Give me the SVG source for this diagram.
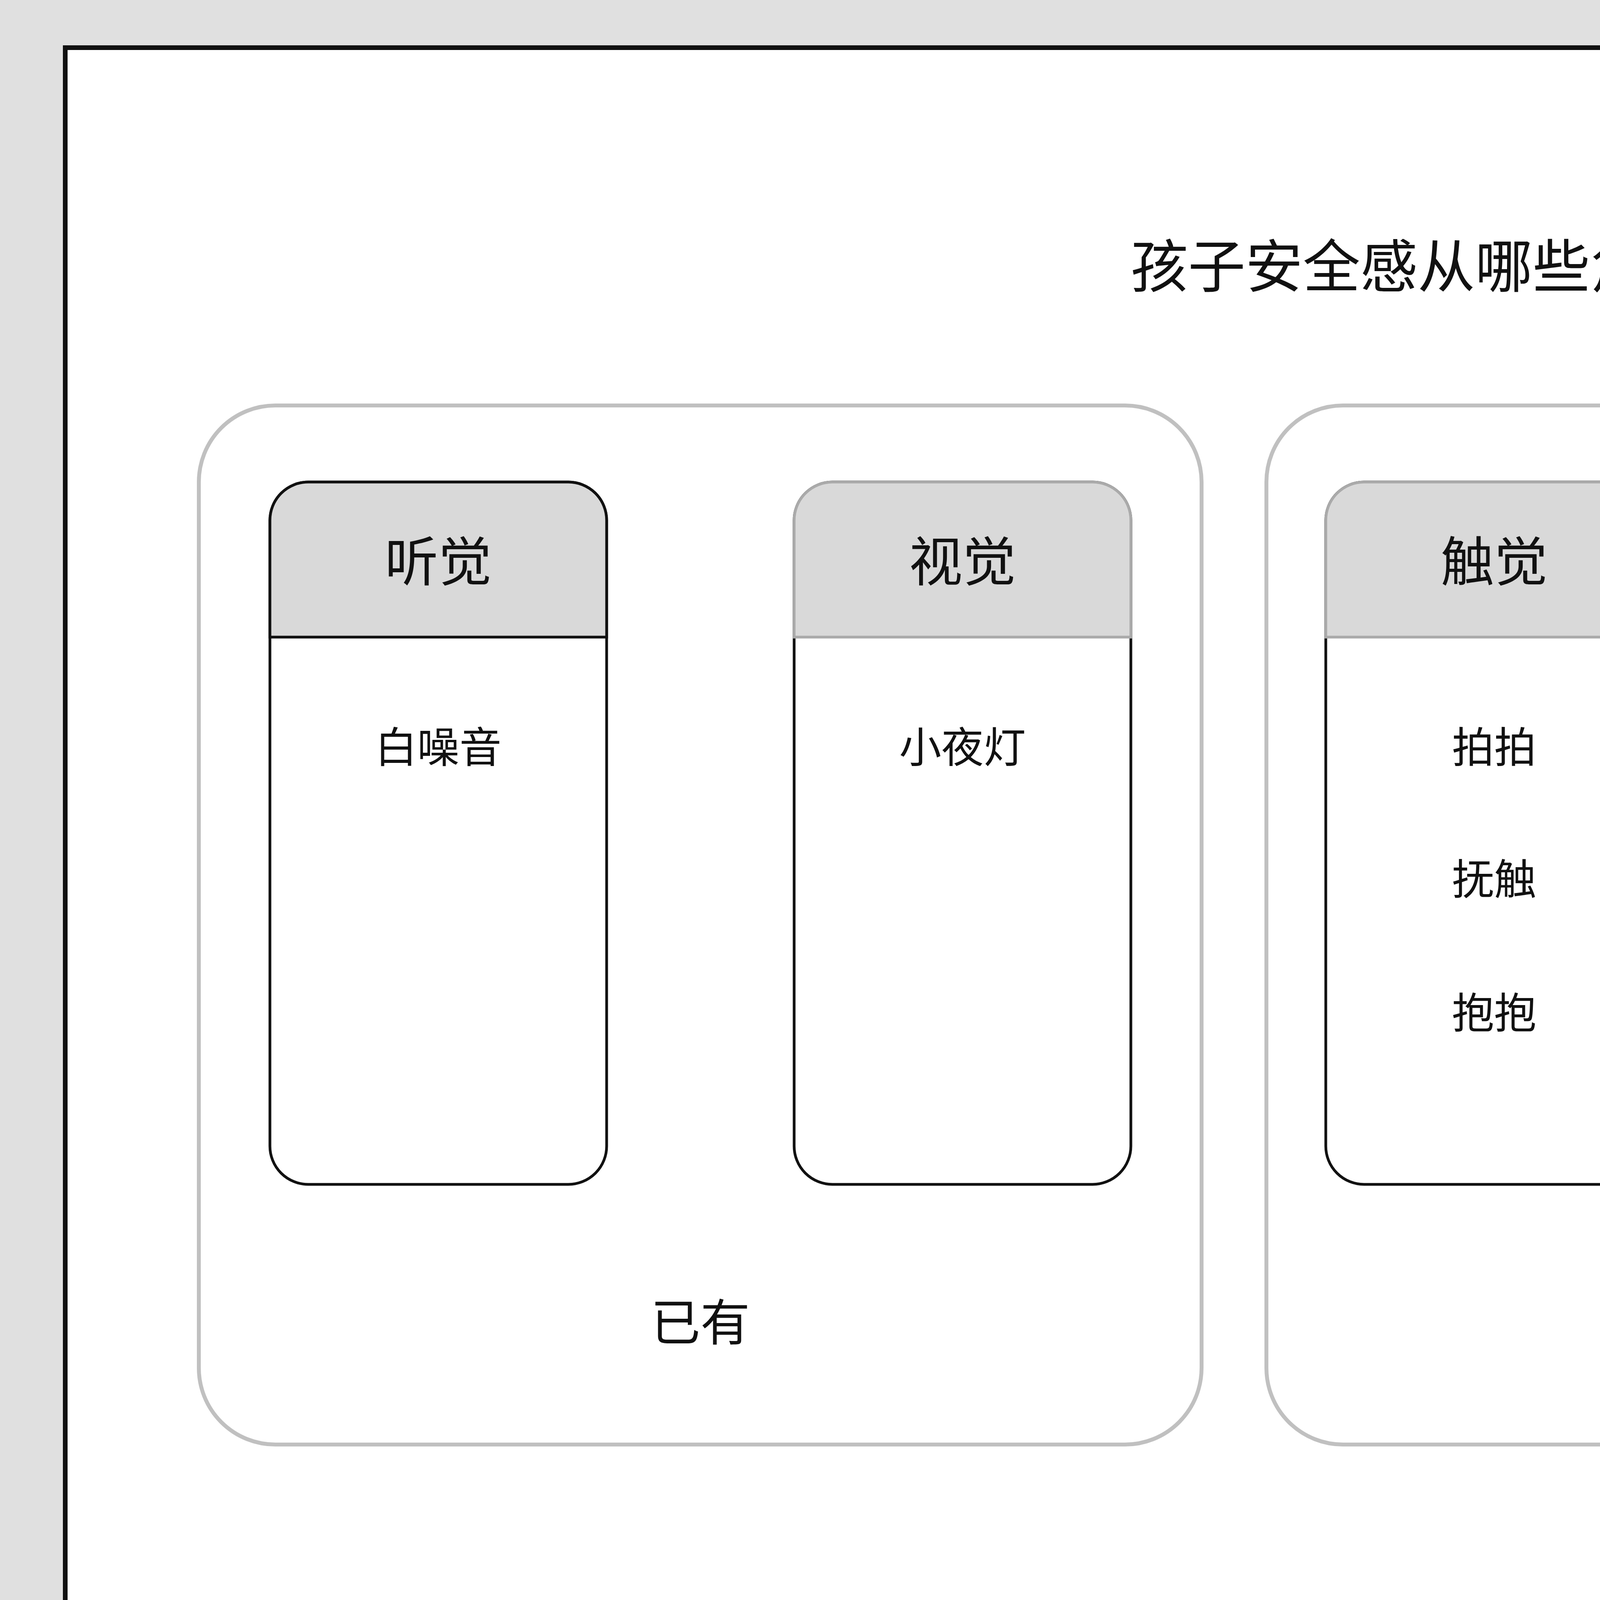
<svg xmlns="http://www.w3.org/2000/svg" width="7680" height="4320" viewBox="0 0 7680 4320">
<style>
text{font-family:"Noto Sans CJK SC","Noto Sans",sans-serif;fill:#111;text-anchor:middle}
.grp{fill:#fff;stroke:#c0c0c0;stroke-width:10}
.body{fill:#fff;stroke:#111;stroke-width:7}
.head{fill:#d9d9d9;stroke:#aaa;stroke-width:7}
.ht{font-size:137px}
.it{font-size:108px}
.lb{font-size:127px}
</style>
<defs>
<path id="hd" d="M0,397 V98 A98,98 0 0 1 98,0 H764 A98,98 0 0 1 862,98 V397 Z"/>
</defs>
<rect width="7680" height="4320" fill="#e0e0e0"/>
<rect x="167" y="122" width="7346" height="4075" fill="#fff" stroke="#111" stroke-width="12"/>
<text x="3811" y="735" style="font-size:147px">孩子安全感从哪些角度入手?</text>
<g id="group-existing"><rect class="grp" x="509" y="1038" width="2567" height="2660" rx="196"/><text class="lb" x="1793" y="3432">已有</text></g>
<g id="group-gap"><rect class="grp" x="3242" y="1038" width="3929" height="2660" rx="196"/><text class="lb" x="5202" y="3432">空缺=机会点</text></g>
<g id="card-hearing"><rect class="body" x="691" y="1234" width="862" height="1798" rx="98"/><use href="#hd" x="691" y="1234" class="head" style="stroke:#111"/><text class="ht" x="1122" y="1488">听觉</text><text class="it" x="1122" y="1952">白噪音</text></g>
<g id="card-vision"><rect class="body" x="2033" y="1234" width="862" height="1798" rx="98"/><use href="#hd" x="2033" y="1234" class="head"/><text class="ht" x="2464" y="1488">视觉</text><text class="it" x="2464" y="1952">小夜灯</text></g>
<g id="card-touch"><rect class="body" x="3394" y="1234" width="862" height="1798" rx="98"/><use href="#hd" x="3394" y="1234" class="head"/><text class="ht" x="3825" y="1488">触觉</text><text class="it" x="3825" y="1952">拍拍</text><text class="it" x="3825" y="2290">抚触</text><text class="it" x="3825" y="2632">抱抱</text></g>
<g id="card-smell"><rect class="body" x="4771" y="1234" width="862" height="1798" rx="98"/><use href="#hd" x="4771" y="1234" class="head"/><text class="ht" x="5202" y="1488">嗅觉</text><text class="it" x="5202" y="1952">母亲的味道</text></g>
<g id="card-taste"><rect class="body" x="6152" y="1234" width="862" height="1798" rx="98"/><use href="#hd" x="6152" y="1234" class="head"/><text class="ht" x="6583" y="1488">味觉</text></g>
<g id="connectors"/>
</svg>
